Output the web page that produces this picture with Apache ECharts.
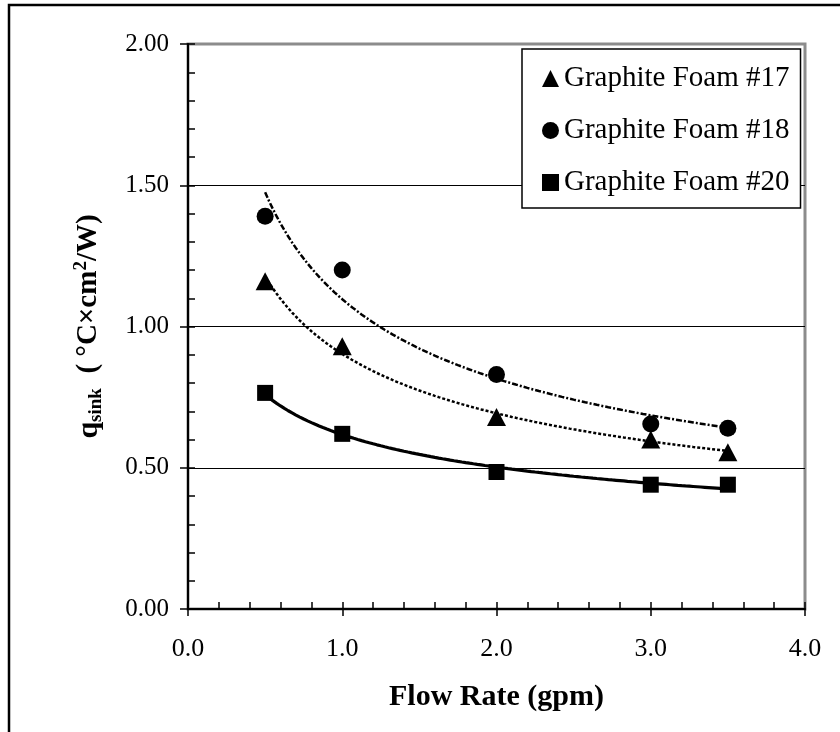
<!DOCTYPE html>
<html>
<head>
<meta charset="utf-8">
<script src="https://cdn.jsdelivr.net/npm/echarts@6/dist/echarts.min.js"></script>
<style>
  html, body { margin: 0; padding: 0; background: #fff; }
  #chart { width: 840px; height: 732px; }
</style>
</head>
<body>
<div id="chart"></div>
<script>
// Flow rate (gpm) at which each foam sample was measured
const flowRate = [0.5, 1.0, 2.0, 3.0, 3.5];
// Sink thermal resistance q_sink (°C·cm²/W) per sample
const foam17 = [1.16, 0.93, 0.68, 0.60, 0.555];
const foam18 = [1.39, 1.20, 0.83, 0.655, 0.64];
const foam20 = [0.765, 0.62, 0.485, 0.44, 0.44];

const seriesNames = ['Graphite Foam #17', 'Graphite Foam #18', 'Graphite Foam #20'];
const xTicks = ['0.0', '1.0', '2.0', '3.0', '4.0'];
const yTicks = ['0.00', '0.50', '1.00', '1.50', '2.00'];

const SERIF = 'Liberation Serif, Times New Roman, serif';

// Power-law trendline y = a * x^b, least squares in log-log space
function powerFit(xs, ys) {
  const lx = xs.map(Math.log), ly = ys.map(Math.log);
  const n = xs.length;
  const mx = lx.reduce((s, v) => s + v, 0) / n;
  const my = ly.reduce((s, v) => s + v, 0) / n;
  let sxx = 0, sxy = 0;
  for (let i = 0; i < n; i++) {
    sxx += (lx[i] - mx) * (lx[i] - mx);
    sxy += (lx[i] - mx) * (ly[i] - my);
  }
  const b = sxy / sxx;
  const a = Math.exp(my - b * mx);
  return x => a * Math.pow(x, b);
}

function trend(xs, ys) {
  const f = powerFit(xs, ys);
  const x0 = xs[0], x1 = xs[xs.length - 1];
  const pts = [];
  const steps = 120;
  for (let i = 0; i <= steps; i++) {
    const x = x0 + (x1 - x0) * i / steps;
    pts.push([x, f(x)]);
  }
  return pts;
}

const pairs = ys => flowRate.map((x, i) => [x, ys[i]]);

const chart = echarts.init(document.getElementById('chart'), null, { renderer: 'canvas' });

const axisFont = { fontFamily: SERIF, fontSize: 26, color: '#000' };

chart.setOption({
  animation: false,
  backgroundColor: '#fff',
  grid: {
    left: 188, top: 44, right: 35, bottom: 123,
    show: true, borderColor: '#8c8c8c', borderWidth: 3,
    backgroundColor: 'transparent',
    outerBoundsMode: 'none'
  },
  graphic: [{
    type: 'rect', silent: true, z: -1,
    shape: { x: 9, y: 5, width: 900, height: 800 },
    style: { fill: 'none', stroke: '#000', lineWidth: 2.5 }
  }],
  legend: {
    orient: 'vertical',
    left: 522, top: 49,
    data: seriesNames,
    backgroundColor: '#fff',
    borderColor: '#000', borderWidth: 1.5, borderRadius: 0,
    padding: [15, 11, 11, 20],
    itemGap: 23,
    itemWidth: 17, itemHeight: 17,
    textStyle: { fontFamily: SERIF, fontSize: 29, color: '#000', lineHeight: 29 },
    selectedMode: false
  },
  xAxis: [{
    type: 'value', min: 0, max: 4, interval: 1, position: 'bottom',
    axisLine: { show: true, onZero: false, lineStyle: { color: '#000', width: 2 } },
    axisTick: { show: true, inside: false, length: 7, lineStyle: { color: '#000', width: 1.5 } },
    axisLabel: Object.assign({ margin: 27, formatter: (v) => xTicks[Math.round(v)] }, axisFont),
    splitLine: { show: false },
    name: 'Flow Rate (gpm)', nameLocation: 'middle', nameGap: 73,
    nameTextStyle: { fontFamily: SERIF, fontSize: 30, fontWeight: 'bold', color: '#000' }
  }, {
    type: 'value', min: 0, max: 4, interval: 1, position: 'bottom', offset: 0,
    axisLine: { show: false },
    axisTick: { show: true, inside: true, length: 7, lineStyle: { color: '#000', width: 1.5 } },
    minorTick: { show: true, splitNumber: 5, length: 7, lineStyle: { color: '#000', width: 1.5 } },
    axisLabel: { show: false },
    splitLine: { show: false }
  }],
  yAxis: [{
    type: 'value', min: 0, max: 2, interval: 0.5, position: 'left',
    axisLine: { show: true, onZero: false, lineStyle: { color: '#000', width: 2 } },
    axisTick: { show: true, inside: false, length: 8, lineStyle: { color: '#000', width: 1.5 } },
    axisLabel: Object.assign({ margin: 19, formatter: (v) => yTicks[Math.round(v * 2)] }, axisFont, { fontSize: 25 }),
    splitLine: {
      show: true,
      lineStyle: {
        width: 1.2,
        color: ['rgba(0,0,0,0)', '#000', '#000', '#000', 'rgba(0,0,0,0)']
      }
    },
    name: '{q|q}{sub|sink}{n|  ( °C×cm}{sup|2}{n|/W)}',
    nameLocation: 'middle', nameRotate: 90, nameGap: 82,
    nameTextStyle: {
      fontFamily: SERIF, fontWeight: 'bold', color: '#000',
      rich: {
        q: { fontFamily: SERIF, fontWeight: 'bold', fontSize: 30, lineHeight: 34, color: '#000' },
        n: { fontFamily: SERIF, fontWeight: 'bold', fontSize: 29, lineHeight: 34, color: '#000' },
        sub: { fontFamily: SERIF, fontWeight: 'bold', fontSize: 19, lineHeight: 19, verticalAlign: 'bottom', color: '#000' },
        sup: { fontFamily: SERIF, fontWeight: 'bold', fontSize: 19, lineHeight: 19, verticalAlign: 'top', color: '#000' }
      }
    }
  }, {
    type: 'value', min: 0, max: 2, interval: 0.5, position: 'left', offset: 0,
    axisLine: { show: false },
    axisTick: { show: true, inside: true, length: 7, lineStyle: { color: '#000', width: 1.5 } },
    minorTick: { show: true, splitNumber: 5, length: 7, lineStyle: { color: '#000', width: 1.5 } },
    axisLabel: { show: false },
    splitLine: { show: false }
  }],
  series: [
    // fitted curves
    {
      name: 'fit18', type: 'line', data: trend(flowRate, foam18), showSymbol: false, symbol: 'none',
      lineStyle: { color: '#000', width: 2.5, type: [6, 2, 2, 2] }, z: 2, silent: true
    },
    {
      name: 'fit17', type: 'line', data: trend(flowRate, foam17), showSymbol: false, symbol: 'none',
      lineStyle: { color: '#000', width: 2.5, type: [3, 2] }, z: 2, silent: true
    },
    {
      name: 'fit20', type: 'line', data: trend(flowRate, foam20), showSymbol: false, symbol: 'none',
      lineStyle: { color: '#000', width: 3.2, type: 'solid' }, z: 2, silent: true
    },
    // measured points
    {
      name: seriesNames[0], type: 'scatter', data: pairs(foam17),
      symbol: 'triangle', symbolSize: [19, 18], itemStyle: { color: '#000', opacity: 1 }, z: 3
    },
    {
      name: seriesNames[1], type: 'scatter', data: pairs(foam18),
      symbol: 'circle', symbolSize: 17, itemStyle: { color: '#000', opacity: 1 }, z: 3
    },
    {
      name: seriesNames[2], type: 'scatter', data: pairs(foam20),
      symbol: 'rect', symbolSize: 16, itemStyle: { color: '#000', opacity: 1 }, z: 3
    }
  ]
});
</script>
</body>
</html>
